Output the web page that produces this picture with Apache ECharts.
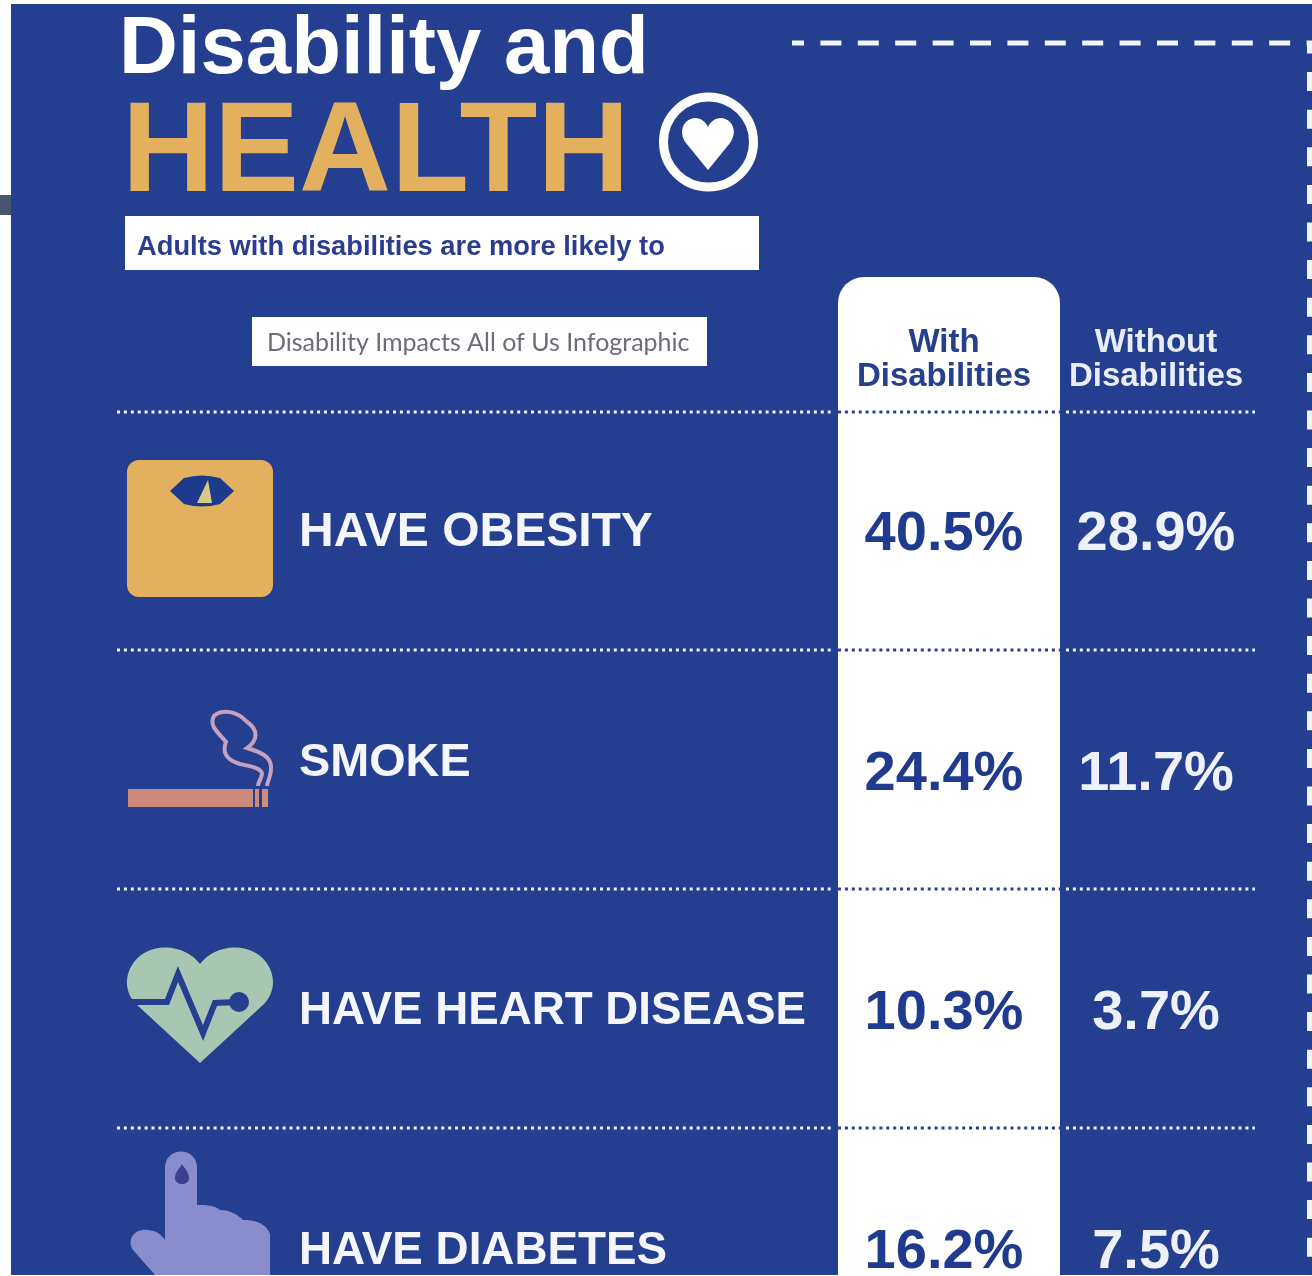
<!DOCTYPE html>
<html>
<head>
<meta charset="utf-8">
<title>Disability and Health</title>
<style>html,body{margin:0;padding:0;background:#fff}#chart{width:1312px;height:1276px}</style>
<script src="https://cdn.jsdelivr.net/npm/echarts@6/dist/echarts.min.js"></script>
</head>
<body>
<div id="chart"></div>
<script>
// Share of adults reporting each condition, by disability status (percent).
const conditions = ['HAVE OBESITY', 'SMOKE', 'HAVE HEART DISEASE', 'HAVE DIABETES'];
const groups = ['With\nDisabilities', 'Without\nDisabilities'];
const withDisabilities = [40.5, 24.4, 10.3, 16.2];
const withoutDisabilities = [28.9, 11.7, 3.7, 7.5];

const BLUE = '#243f90';
const INK = '#1f3a8e';
const GOLD = '#e2b05e';
const FONT = '"Liberation Sans", Arial, sans-serif';
const ROW_Y = [412, 650, 889, 1128];
const ROW_LABEL_RAISE = [2, 11, 2, 1];
const ROW_LABEL_SIZE = [48, 46.8, 45.7, 45.8];

// Registers an SVG path as a graphic shape and returns an element using it.
let pathCount = 0;
function pathShape(d, style) {
  const name = 'iconPath' + (pathCount++);
  echarts.graphic.registerShape(name, echarts.graphic.extendPath(d, {}));
  return { type: name, style: style };
}

function dotted(x1, x2, y, color) {
  return {
    type: 'line',
    shape: { x1, y1: y, x2, y2: y },
    style: { stroke: color, lineWidth: 3, lineDash: [3, 3.9] }
  };
}

const shapes = [
  // panel and the small tab on the left edge
  { type: 'rect', shape: { x: 11, y: 4, width: 1301, height: 1271 }, style: { fill: BLUE } },
  { type: 'rect', shape: { x: 0, y: 195, width: 11, height: 20 }, style: { fill: '#46566f' } },

  // dashed frame
  { type: 'line', shape: { x1: 792, y1: 43, x2: 1312, y2: 43 },
    style: { stroke: '#f1f3f9', lineWidth: 5, lineDash: [21, 16.4], lineDashOffset: 9 } },
  { type: 'line', shape: { x1: 1309.5, y1: 43, x2: 1309.5, y2: 1276 },
    style: { stroke: '#f1f3f9', lineWidth: 5, lineDash: [19, 18.6], lineDashOffset: 8.5 } },

  // heading
  { type: 'text', style: { x: 119, y: 51, text: 'Disability and', fill: '#fff',
      font: 'bold 81.5px ' + FONT, textVerticalAlign: 'middle' } },
  { type: 'text', style: { x: 122, y: 156, text: 'HEALTH', fill: GOLD,
      font: 'bold 127.5px ' + FONT, textVerticalAlign: 'middle' } },

  // heart badge
  { type: 'circle', shape: { cx: 708.5, cy: 142, r: 45 }, style: { fill: 'none', stroke: '#fff', lineWidth: 9 } },
  pathShape('M708 170 L686 143 C678 132 683 119 695 118 C701 118 706 122 708 127 C710 122 715 118 721 118 C733 119 738 132 730 143 Z',
    { fill: '#fff' }),

  // caption boxes
  { type: 'rect', shape: { x: 125, y: 216, width: 634, height: 54 }, style: { fill: '#fff' } },
  { type: 'text', style: { x: 137, y: 247, text: 'Adults with disabilities are more likely to', fill: '#2a3d90',
      font: 'bold 27.3px ' + FONT, textVerticalAlign: 'middle' } },
  { type: 'rect', shape: { x: 252, y: 317, width: 455, height: 49 }, style: { fill: '#fff' } },
  { type: 'text', style: { x: 267, y: 343, text: 'Disability Impacts All of Us Infographic', fill: '#6a6d75',
      font: '25px Lato, ' + FONT, textVerticalAlign: 'middle' } },

  // highlighted column
  { type: 'rect', shape: { x: 838, y: 277, width: 222, height: 1010, r: [26, 26, 0, 0] }, style: { fill: '#fff' } },

  // bathroom scale
  { type: 'rect', shape: { x: 127, y: 460, width: 146, height: 137, r: 12 }, style: { fill: GOLD } },
  pathShape('M170 491 L184 478 Q202 473 220 478 L234 491 L220 504 Q202 509 184 504 Z', { fill: '#1d3a8c' }),
  pathShape('M197 503 L208 480 L212 503 Z', { fill: '#d8c98a' }),

  // cigarette and its smoke
  { type: 'rect', shape: { x: 128, y: 789, width: 125, height: 18 }, style: { fill: '#cd8b7c' } },
  { type: 'rect', shape: { x: 255, y: 789, width: 4, height: 18 }, style: { fill: '#cd8b7c' } },
  { type: 'rect', shape: { x: 262, y: 789, width: 6, height: 18 }, style: { fill: '#cd8b7c' } },
  pathShape('M267 786 C268 778 272 776 271 766 C270 756 260 752 247 748 C258 740 259 730 246 721 C238 712 222 708 214 716 C208 726 220 734 226 742 C222 752 226 760 240 764 C250 766 262 768 262 774 C261 780 258 782 258 786',
    { fill: 'none', stroke: '#c6a0bf', lineWidth: 4 }),

  // heart with pulse trace
  pathShape('M200 1063 L136 1004 C122 990 124 966 144 953 C164 942 188 948 200 964 C212 948 236 942 256 953 C276 966 278 990 264 1004 Z',
    { fill: '#a9c6b2' }),
  pathShape('M128 1002 L167 1002 L178 974 L203 1033 L215 1003 L238 1002',
    { fill: 'none', stroke: BLUE, lineWidth: 6 }),
  { type: 'circle', shape: { cx: 239, cy: 1002, r: 10 }, style: { fill: BLUE } },

  // pointing hand with blood drop
  pathShape('M165 1233 L165 1168 C165 1146 197 1146 197 1168 L197 1205 C205 1205 214 1205 220 1210 C228 1210 236 1213 243 1220 C252 1220 266 1222 270 1234 L270 1275 L155 1275 L133 1250 C126 1238 136 1228 148 1230 C156 1231 160 1233 165 1240 Z',
    { fill: '#8a8dcd' }),
  pathShape('M182 1164 C180 1168 175 1172 175 1178 C175 1186 189 1186 189 1178 C189 1172 184 1168 182 1164 Z',
    { fill: '#3c3f90' })
];

// row rules; each one changes colour across the highlighted column
ROW_Y.forEach(function (y) {
  shapes.push(dotted(117, 831, y, '#f1f3fa'));
  shapes.push(dotted(838, 1060, y, '#2b3f8d'));
  shapes.push(dotted(1066, 1255, y, '#f1f3fa'));
});

function rowsFor(groupIndex, values) {
  return values.map(function (v, i) { return [groups[groupIndex], conditions[i], v]; });
}

function valueSeries(name, groupIndex, values, color) {
  return {
    type: 'scatter',
    name: name,
    symbolSize: 0,
    data: rowsFor(groupIndex, values),
    encode: { x: 0, y: 1 },
    clip: false,
    silent: true,
    itemStyle: { opacity: 1 },
    label: {
      show: true,
      position: 'inside',
      color: color,
      opacity: 1,
      fontFamily: FONT,
      fontWeight: 'bold',
      fontSize: 56,
      formatter: function (p) { return p.value[2].toFixed(1) + '%'; }
    }
  };
}

const chart = echarts.init(document.getElementById('chart'), null, { renderer: 'canvas' });
chart.setOption({
  animation: false,
  backgroundColor: '#fff',
  graphic: { elements: shapes },
  grid: { left: 838, top: 415.3, width: 424, height: 957.2, outerBoundsMode: 'none' },
  xAxis: {
    type: 'category',
    position: 'top',
    data: groups.map(function (g, i) {
      return { value: g, textStyle: { color: i === 0 ? '#26408c' : '#e9edf7' } };
    }),
    axisLine: { show: false },
    axisTick: { show: false },
    axisLabel: {
      interval: 0,
      hideOverlap: false,
      margin: 21.3,
      fontFamily: FONT,
      fontWeight: 'bold',
      fontSize: 33,
      lineHeight: 34,
      align: 'center'
    }
  },
  yAxis: {
    type: 'category',
    inverse: true,
    data: conditions.map(function (c, i) {
      return {
        value: c,
        textStyle: {
          align: 'left',
          verticalAlign: 'bottom',
          lineHeight: ROW_LABEL_RAISE[i] * 2,
          fontSize: ROW_LABEL_SIZE[i]
        }
      };
    }),
    axisLine: { show: false },
    axisTick: { show: false },
    splitLine: { show: false },
    axisLabel: {
      interval: 0,
      hideOverlap: false,
      margin: 539,
      align: 'left',
      color: '#f4f6fb',
      fontFamily: FONT,
      fontWeight: 'bold',
      fontSize: 46
    }
  },
  series: [
    valueSeries('With Disabilities', 0, withDisabilities, INK),
    valueSeries('Without Disabilities', 1, withoutDisabilities, '#eef1f9')
  ]
});
</script>
</body>
</html>
